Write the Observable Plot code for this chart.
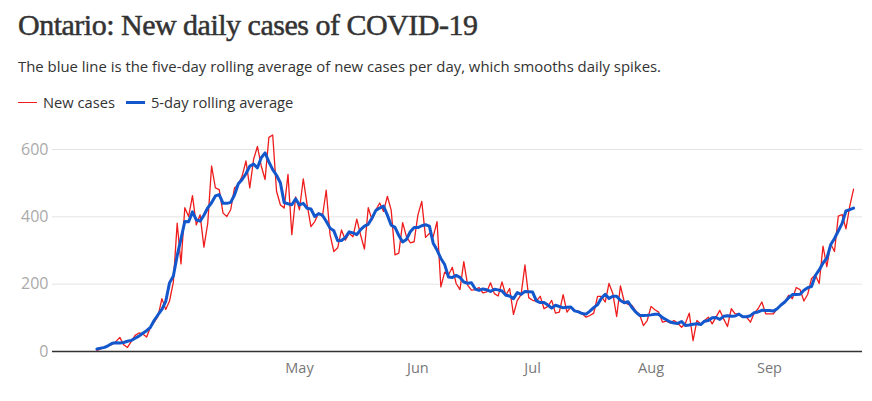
<!DOCTYPE html>
<html>
<head>
<meta charset="utf-8">
<script src="https://cdn.jsdelivr.net/npm/d3@7"></script>
<script src="https://cdn.jsdelivr.net/npm/@observablehq/plot@0.6"></script>
<style>
  body { margin: 0; background: #fff; }
  #wrap { position: relative; width: 872px; height: 401px; overflow: hidden; }
  .title {
    position: absolute; left: 18px; top: 9px;
    font-family: "Liberation Serif", serif; font-weight: normal;
    font-size: 30px; line-height: 32px; color: #333; letter-spacing: -0.5px;
    -webkit-text-stroke: 0.5px #333;
    white-space: nowrap;
  }
  .sub {
    position: absolute; left: 18px; top: 56px;
    font-family: "Open Sans", sans-serif; font-size: 14.9px; line-height: 20px;
    color: #333; white-space: nowrap;
  }
  .legend {
    position: absolute; left: 18px; top: 92px;
    font-family: "Open Sans", sans-serif; font-size: 14.7px; line-height: 20px;
    color: #333; display: flex; align-items: center; white-space: nowrap;
  }
  .sw { display: inline-block; width: 19px; margin-right: 6px; }
  .item { display: flex; align-items: center; margin-right: 11px; }
  #plot { position: absolute; left: 0; top: 115px; }
</style>
</head>
<body>
<div id="wrap">
  <div class="title">Ontario: New daily cases of COVID-19</div>
  <div class="sub">The blue line is the five-day rolling average of new cases per day, which smooths daily spikes.</div>
  <div class="legend" id="legend"></div>
  <div id="plot"></div>
</div>
<script>
// Daily new cases reported in Ontario, one value per day starting 2020-03-09
const firstDay = "2020-03-09";
const newCases = [
  3, 8, 12, 17, 21, 30, 42, 20, 12, 30, 48, 55, 52, 43, 72, 87, 105, 157, 125, 150, 206, 381, 260,
  427, 401, 463, 376, 406, 310, 381, 551, 486, 481, 411, 401, 421, 486, 496, 521, 566, 486, 571, 609, 551, 511, 636, 643, 476, 436, 426, 526,
  347, 459, 421, 513, 436, 371, 386, 411, 401, 479, 347, 297, 308, 361, 331, 351, 341, 393, 346, 304, 427, 391, 421, 441, 416, 461, 420,
  287, 292, 383, 341, 323, 326, 406, 446, 339, 351, 341, 386, 192, 236, 227, 250, 202, 184, 267, 197, 182, 184, 190, 174, 177, 204, 172, 165,
  207, 167, 187, 110, 152, 169, 257, 160, 152, 150, 164, 127, 134, 152, 114, 117, 169, 117, 132, 122, 120, 112, 102, 107, 114, 164, 164, 147, 202,
  172, 104, 195, 147, 140, 137, 120, 110, 77, 92, 134, 124, 117, 87, 90, 85, 92, 84, 72, 84, 114, 32, 92, 82, 92, 102, 82, 102, 122, 97, 74, 127, 112,
  112, 102, 102, 87, 114, 127, 147, 112, 112, 112, 127, 137, 147, 167, 157, 190, 184, 150, 170, 217, 227, 202, 313, 252, 320, 297, 402, 407, 364, 432, 482
];

// Axis ticks and labels
const yTicks = [0, 200, 400, 600];
const monthTicks = ["2020-05-01", "2020-06-01", "2020-07-01", "2020-08-01", "2020-09-01"];
const xExtent = ["2020-02-26T09:00Z", "2020-09-25T08:00Z"];

// Series names and colours
const seriesNames = ["New cases", "5-day rolling average"];
const seriesColors = ["#ee1c1c", "#1257cc"];

const start = new Date(firstDay + "T00:00Z");
const rows = newCases.map((v, i) => ({date: d3.utcDay.offset(start, i), cases: v}));

// Legend
const legend = document.getElementById("legend");
seriesNames.forEach((name, i) => {
  const item = document.createElement("span");
  item.className = "item";
  const sw = document.createElement("span");
  sw.className = "sw";
  sw.style.borderTop = `${i === 0 ? 1.5 : 3}px solid ${seriesColors[i]}`;
  item.appendChild(sw);
  item.appendChild(document.createTextNode(name));
  legend.appendChild(item);
});

const chart = Plot.plot({
  width: 872,
  height: 286,
  marginLeft: 52,
  marginRight: 10,
  marginTop: 34,
  marginBottom: 50,
  style: {fontFamily: "Open Sans, sans-serif", background: "transparent"},
  x: {type: "utc", domain: xExtent.map(d => new Date(d))},
  y: {domain: [0, 600]},
  marks: [
    Plot.gridY(yTicks, {stroke: "#e4e4e4", strokeOpacity: 1, strokeWidth: 1}),
    Plot.axisY({ticks: yTicks, tickSize: 0, tickPadding: 4, label: null, color: "#aaa", fontSize: 16}),
    Plot.axisX({ticks: monthTicks.map(d => new Date(d + "T00:00Z")), tickFormat: d3.utcFormat("%b"),
      tickSize: 0, tickPadding: 11, label: null, color: "#777", fontSize: 14.5}),
    Plot.ruleY([0], {stroke: "#333", strokeWidth: 1.5}),
    Plot.lineY(rows, {x: "date", y: "cases", stroke: seriesColors[0], strokeWidth: 1.3}),
    Plot.lineY(rows, Plot.windowY({k: 5, anchor: "middle", strict: false},
      {x: "date", y: "cases", stroke: seriesColors[1], strokeWidth: 3}))
  ]
});
document.getElementById("plot").appendChild(chart);
</script>
</body>
</html>
